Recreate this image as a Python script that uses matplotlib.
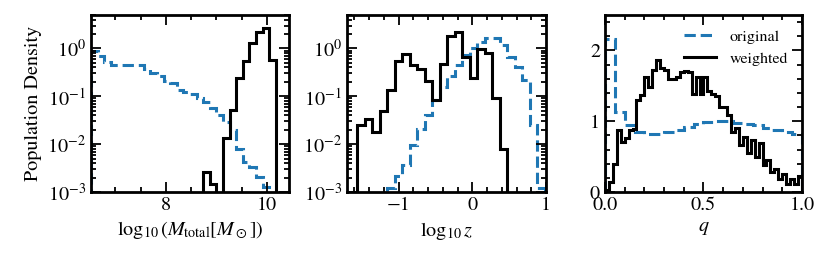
import numpy as np
import matplotlib
matplotlib.use("Agg")
import matplotlib.pyplot as plt
from matplotlib.ticker import MultipleLocator

plt.rcParams['font.family'] = 'STIXGeneral'
plt.rcParams['mathtext.fontset'] = 'stix'
plt.rcParams['font.size'] = 14.5

# Panel 1: log10 total mass (30 bins)
mass_edges = np.linspace(6.52, 10.44, 31)
mass_orig = [0.90, 0.70, 0.51, 0.45, 0.46, 0.46, 0.45, 0.45, 0.37, 0.31,
             0.27, 0.21, 0.19, 0.135, 0.125, 0.11, 0.093, 0.077, 0.056, 0.040,
             0.029, 0.0196, 0.0081, 0.0043, 0.0034, 0.0021, 0.0013, 0.0005, 0, 0]
mass_wt = [0, 0, 0, 0, 0, 0, 0, 0, 0, 0,
           0, 0, 0, 0, 0, 0, 0, 0.0026, 0.0015, 0,
           0.0135, 0.051, 0.236, 0.54, 1.27, 2.24, 2.71, 0.57, 0, 0]

# Panel 2: log10 z (25 bins)
z_edges = np.linspace(-1.56, 0.985, 26)
z_orig = [0, 0, 0, 0.0005, 0.0012, 0.0022, 0.0036, 0.0095, 0.021, 0.040,
          0.085, 0.16, 0.27, 0.46, 0.74, 1.0, 1.35, 1.67, 1.67, 1.17,
          0.67, 0.41, 0.22, 0.025, 0.0012]
z_wt = [0.025, 0.034, 0.018, 0.050, 0.134, 0.54, 0.75, 0.46, 0.37, 0.21,
        0.083, 0.47, 1.84, 2.16, 0.67, 0.24, 0.97, 0.82, 0.09, 0.0078,
        0, 0, 0, 0, 0]

# Panel 3: mass ratio q
q_edges_orig = np.linspace(0, 1, 21)
q_orig = [2.16, 1.13, 0.95, 0.85, 0.82, 0.82, 0.85, 0.88, 0.92, 0.96,
          0.99, 1.0, 1.0, 0.98, 0.96, 0.94, 0.91, 0.88, 0.85, 0.82]
q_edges_wt = np.linspace(0, 1, 51)
q_wt = [0.03, 0.14, 0.39, 0.87, 0.71, 0.76, 0.87, 0.89, 1.30, 1.37,
        1.63, 1.48, 1.72, 1.87, 1.75, 1.72, 1.60, 1.60, 1.63, 1.70,
        1.71, 1.70, 1.39, 1.63, 1.39, 1.62, 1.42, 1.38, 1.35, 1.20,
        1.20, 1.09, 0.85, 0.90, 0.66, 0.78, 0.55, 0.73, 0.50, 0.69,
        0.38, 0.45, 0.28, 0.33, 0.19, 0.26, 0.12, 0.19, 0.12, 0.22]

blue = '#1f77b4'
lw = 2.2

fig = plt.figure(figsize=(8.31, 2.64), dpi=100)
ax1 = fig.add_axes([0.1095, 0.2727, 0.2383, 0.6705])
ax2 = fig.add_axes([0.4176, 0.2727, 0.2395, 0.6705])
ax3 = fig.add_axes([0.7280, 0.2727, 0.2370, 0.6705])

# log panels: zero bins fall below the axis
ax1.set_yscale('log')
ax1.stairs(mass_orig, mass_edges, color=blue, ls='--', lw=lw, baseline=0)
ax1.stairs(mass_wt, mass_edges, color='k', lw=lw, baseline=0)
ax1.set_xlim(6.52, 10.44)
ax1.set_ylim(1e-3, 5)
ax1.xaxis.set_major_locator(MultipleLocator(2))
ax1.xaxis.set_minor_locator(MultipleLocator(0.5))
ax1.set_xlabel(r'$\log_{10}(M_{\rm total}[M_\odot])$')
ax1.set_ylabel('Population Density')

ax2.set_yscale('log')
ax2.stairs(z_orig, z_edges, color=blue, ls='--', lw=lw, baseline=0)
ax2.stairs(z_wt, z_edges, color='k', lw=lw, baseline=0)
ax2.set_xlim(-1.7, 1.0)
ax2.set_ylim(1e-3, 5)
ax2.xaxis.set_major_locator(MultipleLocator(1))
ax2.xaxis.set_minor_locator(MultipleLocator(0.2))
ax2.set_xlabel(r'$\log_{10} z$')

ax3.stairs(q_orig, q_edges_orig, color=blue, ls='--', lw=lw, baseline=0, label='original')
ax3.stairs(q_wt, q_edges_wt, color='k', lw=lw, baseline=0, label='weighted')
ax3.set_xlim(0, 1)
ax3.set_ylim(0, 2.5)
ax3.xaxis.set_major_locator(MultipleLocator(0.5))
ax3.xaxis.set_minor_locator(MultipleLocator(0.1))
ax3.yaxis.set_major_locator(MultipleLocator(1))
ax3.yaxis.set_minor_locator(MultipleLocator(0.2))
ax3.set_xlabel(r'$q$')
ax3.legend(loc='upper right', frameon=False, fontsize=11.5)

for ax in (ax1, ax2, ax3):
    for s in ax.spines.values():
        s.set_linewidth(2.0)
    ax.tick_params(which='both', direction='in', top=True, right=True, width=1.3)
    ax.tick_params(which='major', length=7)
    ax.tick_params(which='minor', length=3.5)

fig.savefig('out.png', dpi=100)
